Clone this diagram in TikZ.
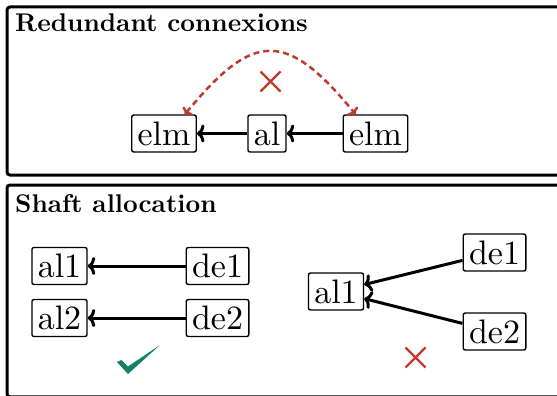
\documentclass[tikz,border=0pt]{standalone}
\usepackage{fontspec}
\setmainfont{lmroman10-regular}[Extension=.otf, BoldFont=lmroman10-bold]
\usetikzlibrary{arrows.meta}
\definecolor{xred}{RGB}{192,57,43}
\definecolor{okgreen}{RGB}{18,128,104}
\tikzset{
  frame/.style={draw=black, line width=3pt, rounded corners=3pt},
  title/.style={anchor=base west, inner sep=0pt, font=\fontsize{25.6}{30}\selectfont\bfseries},
  box/.style={draw=black, line width=1.4pt, rounded corners=2pt, fill=white,
    inner xsep=5.8pt, inner ysep=6.5pt, font=\fontsize{34}{40}\selectfont},
  link/.style={line width=3pt, -{Computer Modern Rightarrow[length=7.5pt,width=18pt]}},
  redlink/.style={draw=xred, line width=2.5pt, dash pattern=on 6pt off 4pt,
    {Computer Modern Rightarrow[length=5.5pt,width=13pt]}-{Computer Modern Rightarrow[length=5.5pt,width=13pt]}},
  cross/.style={draw=xred, line width=2.2pt}
}
\begin{document}
\begin{tikzpicture}[x=1pt, y=-1pt]
\useasboundingbox (0,0) rectangle (557,396);
\clip (0,0) rectangle (557,396);
% frames
\draw[frame] (7,7) rectangle (600,175);
\draw[frame] (7,185) rectangle (600,396.8);
\node[title] (t1) at (15,32) {Redundant connexions};
\node[title] (t2) at (15,212) {Shaft allocation};
% top
\node[box] (elmL) at (164,133.5) {elm};
\node[box] (al) at (267,133.5) {al};
\node[box] (elmR) at (375.5,133.5) {elm};
\draw[link] (al) -- (elmL);
\draw[link] (elmR) -- (al);
\coordinate (pL) at ([xshift=-12pt]elmL.north east);
\coordinate (pR) at ([xshift=13pt]elmR.north west);
\draw[redlink] (pL) .. controls ++(69,-84) and ++(-69,-84) .. (pR);
\coordinate (x1) at (270.5,81.5);
\draw[cross] ([shift={(-10,-10)}]x1) -- ([shift={(10,10)}]x1)
             ([shift={(10,-10)}]x1) -- ([shift={(-10,10)}]x1);
% bottom left
\node[box] (al1) at (59.5,266) {al1};
\node[box] (de1) at (217.5,266) {de1};
\node[box] (al2) at (59.5,318) {al2};
\node[box] (de2) at (217.5,318) {de2};
\draw[link] (de1) -- (al1);
\draw[link] (de2) -- (al2);
\fill[okgreen] (117,362) -- (121.5,360) -- (128,366.5) -- (160,345) -- (128,374) -- cycle;
% bottom right
\node[box] (al1r) at (336,291.5) {al1};
\node[box] (de1r) at (494.5,252.5) {de1};
\node[box] (de2r) at (494.5,331.5) {de2};
\draw[link] (de1r) -- (al1r);
\draw[link] (de2r) -- (al1r);
\coordinate (x2) at (415.5,357.5);
\draw[cross] ([shift={(-10,-10)}]x2) -- ([shift={(10,10)}]x2)
             ([shift={(10,-10)}]x2) -- ([shift={(-10,10)}]x2);
\end{tikzpicture}
\end{document}
